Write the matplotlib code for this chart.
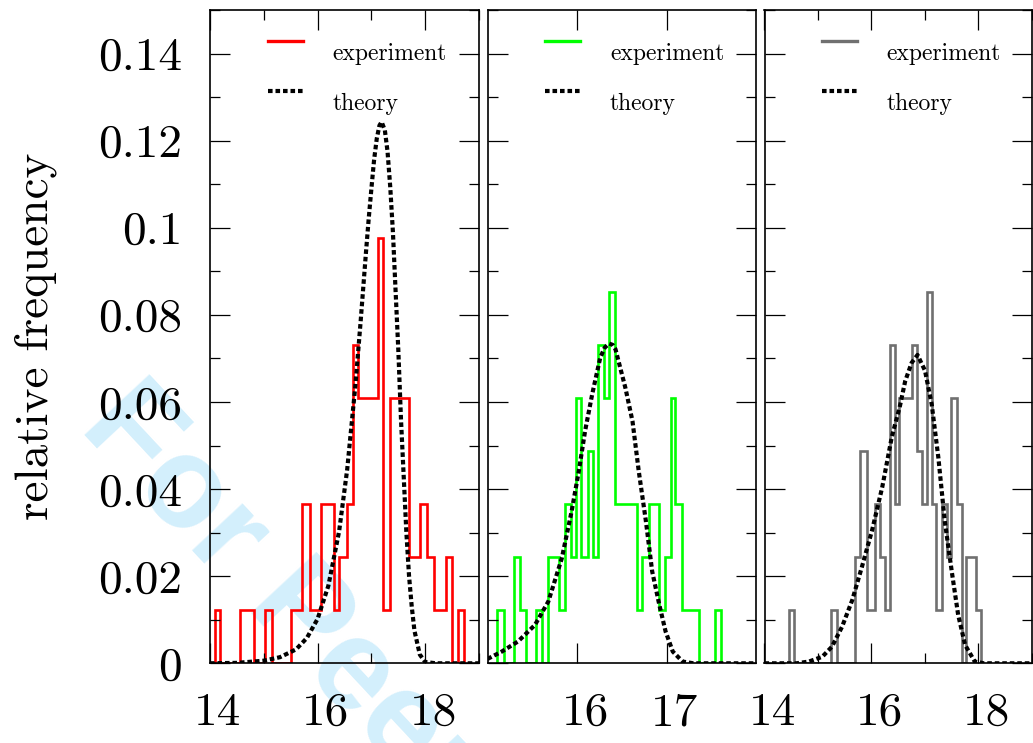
import numpy as np
import matplotlib
matplotlib.use("Agg")
import matplotlib.pyplot as plt
from matplotlib.lines import Line2D
from matplotlib.legend_handler import HandlerLine2D
from matplotlib.ticker import MultipleLocator, FormatStrFormatter
from matplotlib.transforms import ScaledTranslation

# Computer Modern look for every text
plt.rcParams["font.family"] = ["cmr10"]
plt.rcParams["axes.unicode_minus"] = False

# number of samples behind each relative frequency
n_samples = 82

# histogram steps: bin edges and counts per step
edges_red = [14.10, 14.18, 14.56, 14.82, 15.03, 15.16, 15.50, 15.71, 15.86,
             16.07, 16.30, 16.39, 16.54, 16.65, 16.76, 17.12, 17.21, 17.34,
             17.69, 17.91, 18.03, 18.17, 18.39, 18.50, 18.61, 18.73]
counts_red = [1, 0, 1, 0, 1, 0, 1, 3, 1, 3, 1, 2, 3, 6, 5, 8, 1, 5, 2, 3,
              2, 1, 2, 0, 1]

edges_green = [15.11, 15.18, 15.30, 15.36, 15.43, 15.54, 15.61, 15.68,
               15.80, 15.87, 15.93, 15.99, 16.05, 16.12, 16.18, 16.24,
               16.30, 16.36, 16.43, 16.67, 16.73, 16.80, 16.92, 16.98,
               17.05, 17.10, 17.17, 17.36, 17.54, 17.61]
counts_green = [1, 0, 2, 1, 0, 1, 0, 2, 1, 3, 2, 5, 2, 4, 2, 6, 5, 7, 3, 1,
                2, 3, 1, 2, 5, 3, 1, 0, 1]

edges_grey = [14.45, 14.56, 15.25, 15.36, 15.70, 15.79, 15.92, 16.07, 16.16,
              16.26, 16.35, 16.44, 16.51, 16.76, 16.85, 16.95, 17.03, 17.14,
              17.21, 17.31, 17.41, 17.49, 17.59, 17.69, 17.77, 17.95, 18.04]
counts_grey = [1, 0, 1, 0, 2, 4, 1, 3, 2, 1, 6, 3, 5, 6, 4, 3, 7, 3, 1, 3,
               2, 5, 3, 0, 2, 1]

# theoretical curves
theory_x_red = [14.0, 14.5, 15.0, 15.3, 15.6, 15.8, 16.0, 16.2, 16.4, 16.55,
                16.7, 16.8, 16.9, 16.95, 17.0, 17.05, 17.1, 17.15, 17.19,
                17.25, 17.3, 17.35, 17.4, 17.45, 17.5, 17.55, 17.6, 17.65,
                17.7, 17.75, 17.8, 17.9, 18.0, 18.2, 19.0]
theory_y_red = [0.0, 0.0001, 0.0006, 0.0014, 0.0032, 0.0058, 0.0102, 0.0178,
                0.0303, 0.0445, 0.0635, 0.0785, 0.0945, 0.1021, 0.1090,
                0.1156, 0.1205, 0.1235, 0.1243, 0.1224, 0.1175, 0.1094,
                0.0990, 0.0854, 0.0720, 0.0560, 0.0430, 0.0300, 0.0200,
                0.0130, 0.0075, 0.0020, 0.0003, 0.0, 0.0]

theory_x_green = [15.0, 15.16, 15.34, 15.53, 15.68, 15.83, 15.94, 16.02,
                  16.09, 16.17, 16.26, 16.31, 16.36, 16.40, 16.43, 16.54,
                  16.62, 16.69, 16.77, 16.84, 16.92, 16.99, 17.07, 17.18,
                  17.3, 18.0]
theory_y_green = [0.0010, 0.0027, 0.0050, 0.0088, 0.0142, 0.0241, 0.0349,
                  0.0441, 0.0533, 0.0618, 0.0702, 0.0725, 0.0734, 0.0731,
                  0.0721, 0.0633, 0.0556, 0.0441, 0.0326, 0.0211, 0.0134,
                  0.0073, 0.0027, 0.0004, 0.0, 0.0]

theory_x_grey = [14.0, 14.6, 14.83, 15.08, 15.26, 15.45, 15.64, 15.82, 16.01,
                 16.20, 16.38, 16.53, 16.63, 16.75, 16.86, 17.0, 17.125,
                 17.25, 17.37, 17.50, 17.62, 17.75, 17.93, 18.1, 19.0]
theory_y_grey = [0.0, 0.0, 0.0004, 0.0015, 0.0038, 0.0084, 0.0145, 0.0221,
                 0.0305, 0.0404, 0.0520, 0.0590, 0.0648, 0.0690, 0.0708,
                 0.0672, 0.0595, 0.0472, 0.0326, 0.0211, 0.0111, 0.0042,
                 0.0004, 0.0, 0.0]

panels = [
    dict(edges=edges_red, counts=counts_red, tx=theory_x_red,
         ty=theory_y_red, color="#ff0000", xlim=(14, 19),
         xticks=[14, 16, 18], xminor=1),
    dict(edges=edges_green, counts=counts_green, tx=theory_x_green,
         ty=theory_y_green, color="#00ff00", xlim=(15, 18),
         xticks=[16, 17], xminor=None),
    dict(edges=edges_grey, counts=counts_grey, tx=theory_x_grey,
         ty=theory_y_grey, color="#707070", xlim=(14, 19),
         xticks=[14, 16, 18], xminor=1),
]


class RaisedLine(HandlerLine2D):
    """Legend key drawn a little above the middle of its label."""

    def create_artists(self, legend, orig_handle, xdescent, ydescent,
                       width, height, fontsize, trans):
        arts = super().create_artists(legend, orig_handle, xdescent,
                                      ydescent, width, height, fontsize,
                                      trans)
        for a in arts:
            a.set_ydata(np.asarray(a.get_ydata()) + 0.45 * fontsize)
        return arts


W, H = 1033, 743
fig = plt.figure(figsize=(W / 100, H / 100), dpi=100)
fig.patch.set_facecolor("white")

# axes boxes in pixels: left, right
boxes = [(210, 479), (487.5, 756), (764.5, 1032)]
top_px, bottom_px = 10, 663.3

# x tick labels sit a few pixels right of their ticks
label_shift = ScaledTranslation(8 / 100, 0, fig.dpi_scale_trans)

dotted = (0, (1.1, 0.7))
axes = []
for i, (p, (x0, x1)) in enumerate(zip(panels, boxes)):
    ax = fig.add_axes([x0 / W, 1 - bottom_px / H, (x1 - x0) / W,
                       (bottom_px - top_px) / H])
    ax.set_facecolor("none")
    freq = np.array(p["counts"]) / n_samples
    ax.stairs(freq, p["edges"], color=p["color"], lw=1.9, baseline=0)
    ax.plot(p["tx"], p["ty"], color="black", lw=3.0, ls=dotted)

    ax.set_xlim(*p["xlim"])
    ax.set_ylim(0, 0.15)
    ax.set_xticks(p["xticks"])
    if p["xminor"]:
        ax.xaxis.set_minor_locator(MultipleLocator(p["xminor"]))
    ax.yaxis.set_major_locator(MultipleLocator(0.02))
    ax.yaxis.set_minor_locator(MultipleLocator(0.01))
    ax.yaxis.set_major_formatter(FormatStrFormatter("%g"))
    ax.xaxis.set_major_formatter(FormatStrFormatter("%g"))

    ax.tick_params(which="both", direction="in", top=True, right=True,
                   width=0.9, labelsize=34)
    ax.tick_params(which="major", length=14.4)
    ax.tick_params(which="minor", length=7.2)
    ax.tick_params(axis="x", pad=21)
    ax.tick_params(axis="y", pad=20)
    if i > 0:
        ax.tick_params(axis="y", labelleft=False)
    for s in ax.spines.values():
        s.set_linewidth(1.2)
    for lab in ax.get_xticklabels():
        lab.set_transform(lab.get_transform() + label_shift)

    handles = [Line2D([], [], color=p["color"], lw=2.4),
               Line2D([], [], color="black", lw=3.0, ls=dotted)]
    ax.legend(handles, ["experiment", "theory"], loc="upper left",
              bbox_to_anchor=(0.216, 0.950), frameon=False, fontsize=17,
              borderpad=0, borderaxespad=0, handlelength=1.48,
              handletextpad=1.25, labelspacing=1.2,
              handler_map={Line2D: RaisedLine()})
    axes.append(ax)

axes[0].set_ylabel("relative frequency", fontsize=34)
axes[0].yaxis.set_label_coords(-0.57, 0.5)

# watermark behind the axes
fig.text(78 / W, 1 - 428 / H, "For Peer Review", rotation=-47,
         rotation_mode="anchor", ha="left", va="baseline", fontsize=93,
         fontweight="bold", family=["Liberation Sans"], color="#d3effc",
         zorder=-10)

fig.savefig("out.png", dpi=100)
